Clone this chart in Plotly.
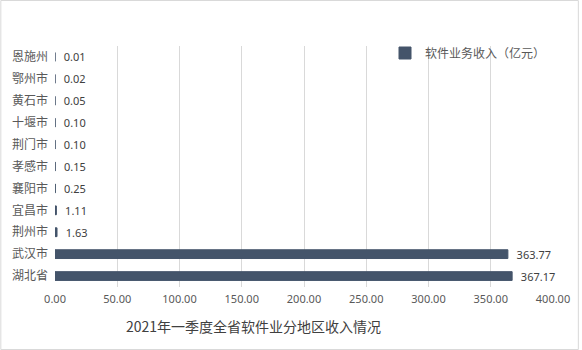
import plotly.graph_objects as go

categories = ["湖北省", "武汉市", "荆州市", "宜昌市", "襄阳市", "孝感市",
              "荆门市", "十堰市", "黄石市", "鄂州市", "恩施州"]
values = [367.17, 363.77, 1.63, 1.11, 0.25, 0.15, 0.10, 0.10, 0.05, 0.02, 0.01]
series_name = "软件业务收入（亿元）"
chart_title = "2021年一季度全省软件业分地区收入情况"
x_ticks = [0, 50, 100, 150, 200, 250, 300, 350, 400]

W, H = 582, 350
L, R, T, B = 55, 26, 46, 63
pw, ph = W - L - R, H - T - B

fig = go.Figure()
fig.add_trace(go.Bar(
    y=categories, x=values, orientation="h", name=series_name,
    marker=dict(color="#44546a", line=dict(color="#44546a", width=1)),
    texttemplate="  %{x:.2f}", textposition="outside", constraintext="none",
    textfont=dict(family="Noto Sans, Liberation Sans", size=11, color="#404040"),
    cliponaxis=False, showlegend=True,
))

fig.update_layout(
    width=W, height=H,
    margin=dict(l=L, r=R, t=T, b=B),
    paper_bgcolor="white", plot_bgcolor="white",
    bargap=0.6,
    font=dict(family="Noto Sans CJK SC", color="#595959"),
    xaxis=dict(range=[0, 400], tickvals=x_ticks, tickformat=".2f",
               showgrid=True, gridcolor="#d9d9d9", gridwidth=1,
               zeroline=False, showline=False, ticks="", ticklabelstandoff=4,
               tickfont=dict(family="Noto Sans, Liberation Sans", size=11, color="#595959")),
    yaxis=dict(showgrid=False, zeroline=False, showline=False, ticks="",
               ticklabelstandoff=6,
               tickfont=dict(family="Noto Sans CJK SC", size=12, color="#595959")),
    legend=dict(x=(387 - L) / pw, y=(H - B - 53) / ph, xanchor="left", yanchor="middle",
                bgcolor="rgba(0,0,0,0)",
                font=dict(family="Noto Sans CJK SC", size=12, color="#595959")),
    showlegend=True,
)

fig.add_annotation(
    text=chart_title, xref="paper", yref="paper",
    x=(255 - L) / pw, y=(H - B - 326) / ph, xanchor="center", yanchor="middle",
    showarrow=False,
    font=dict(family="Noto Sans CJK SC", size=14, color="#404040"),
)

fig.add_shape(
    type="rect", xref="paper", yref="paper",
    x0=(0.5 - L) / pw, x1=(W - 0.5 - L) / pw,
    y0=(H - B - (H - 0.5)) / ph, y1=(H - B - 0.5) / ph,
    line=dict(color="#d9d9d9", width=1), fillcolor="rgba(0,0,0,0)", layer="below",
)

fig.write_html("out.html")
